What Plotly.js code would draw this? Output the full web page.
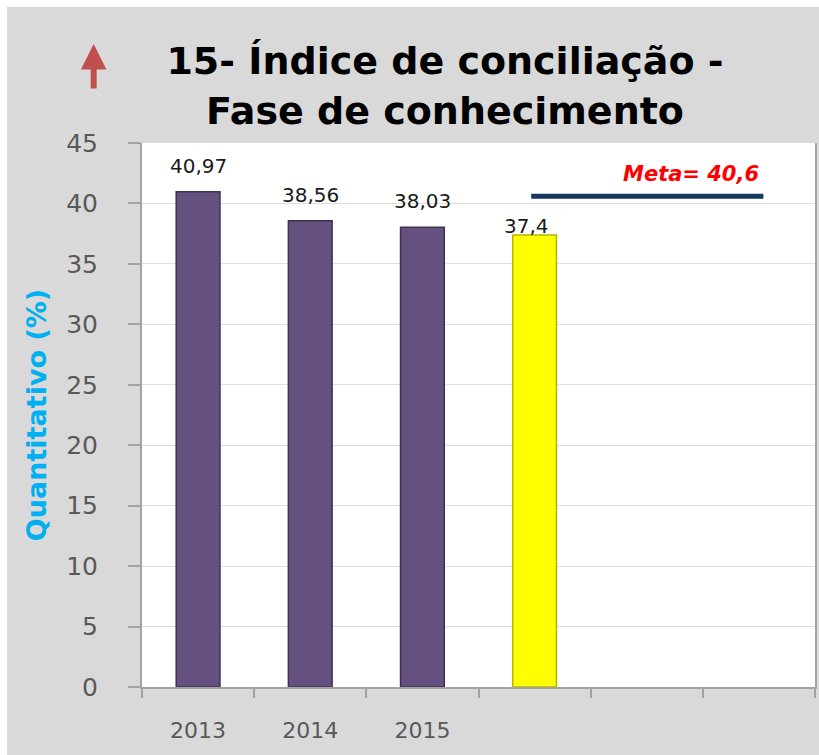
<!DOCTYPE html>
<html>
<head>
<meta charset="utf-8">
<script src="https://cdn.plot.ly/plotly-3.0.1.min.js"></script>
<style>
  html, body { margin: 0; padding: 0; background: #ffffff; width: 819px; height: 755px; overflow: hidden; }
  #chart { position: absolute; left: 7px; top: 7px; width: 812px; height: 748px; }
</style>
</head>
<body>
<div id="chart"></div>
<script>
// ---- data ----
const categories = ["2013", "2014", "2015"];          // labelled categories
const barPositions = [0, 1, 2, 3];                    // category slots holding bars
const barValues = [40.97, 38.56, 38.03, 37.4];
const barLabels = ["40,97", "38,56", "38,03", "37,4"];
const barColors = ["#65517f", "#65517f", "#65517f", "#ffff00"];
const barEdgeColors = ["#3e3152", "#3e3152", "#3e3152", "#b5b500"];
const slotBoundaries = [-0.5, 0.5, 1.5, 2.5, 3.5, 4.5, 5.5];
const metaValue = 40.6;
const metaLabel = "Meta= 40,6";
const metaSpan = [2.97, 5.04];
const yTicks = [0, 5, 10, 15, 20, 25, 30, 35, 40, 45];

const axisGray = "#a3a3a3";
const tickTextGray = "#595959";

const bars = {
  type: "bar",
  x: barPositions,
  y: barValues,
  marker: { color: barColors, line: { color: barEdgeColors, width: 1.5 } },
  hoverinfo: "skip",
  showlegend: false
};

const metaLine = {
  type: "scatter",
  mode: "lines",
  x: metaSpan,
  y: [metaValue, metaValue],
  line: { color: "#17365d", width: 5 },
  hoverinfo: "skip",
  showlegend: false
};

// tick-mark-only overlay axis for category boundaries
const boundaryHelper = {
  type: "scatter",
  mode: "markers",
  x: [slotBoundaries[0]],
  y: [0],
  xaxis: "x2",
  marker: { opacity: 0 },
  hoverinfo: "skip",
  showlegend: false
};

const annotations = barPositions.map((p, i) => ({
  x: p,
  y: barValues[i],
  xref: "x",
  yref: "y",
  text: barLabels[i],
  showarrow: false,
  yanchor: "bottom",
  xanchor: "center",
  xshift: i === 3 ? -8 : 0,
  yshift: i === 3 ? -5 : 12,
  font: { family: "DejaVu Sans", size: 20, color: "#1a1a1a" }
}));

annotations.push({
  x: metaSpan[1],
  y: metaValue,
  xref: "x",
  yref: "y",
  text: "<b><i>" + metaLabel + "</i></b>",
  showarrow: false,
  xanchor: "right",
  yanchor: "bottom",
  xshift: -2,
  yshift: 8,
  font: { family: "DejaVu Sans", size: 21, color: "#ff0000" }
});

// red up arrow (top-left)
annotations.push({
  x: -0.0718,
  y: 1.182,
  xref: "paper",
  yref: "paper",
  text: "",
  showarrow: true,
  arrowhead: 2,
  arrowsize: 0.85,
  arrowwidth: 6,
  arrowcolor: "#c0504d",
  ax: 0,
  ay: 46
});

const layout = {
  width: 812,
  height: 748,
  paper_bgcolor: "#d9d9d9",
  plot_bgcolor: "#ffffff",
  margin: { l: 135, r: 4, t: 136, b: 68 },
  bargap: 0.61,
  title: {
    text: "15- Índice de conciliação -<br>Fase de conhecimento",
    font: { family: "DejaVu Sans", size: 38, color: "#000000", weight: "bold" },
    xref: "container",
    x: 0.5394,
    xanchor: "center",
    yref: "container",
    y: 0.91,
    yanchor: "top"
  },
  xaxis: {
    range: [-0.5, 5.5],
    tickmode: "array",
    tickvals: [0, 1, 2],
    ticktext: categories,
    ticks: "",
    showgrid: false,
    zeroline: false,
    showline: true,
    linecolor: axisGray,
    linewidth: 2,
    ticklabelstandoff: 23,
    tickfont: { family: "DejaVu Sans", size: 22, color: tickTextGray },
    fixedrange: true
  },
  xaxis2: {
    overlaying: "x",
    anchor: "y",
    side: "bottom",
    range: [-0.5, 5.5],
    tickmode: "array",
    tickvals: slotBoundaries,
    ticks: "outside",
    ticklen: 10,
    tickwidth: 2,
    tickcolor: axisGray,
    showticklabels: false,
    showgrid: false,
    zeroline: false,
    showline: false
  },
  yaxis: {
    range: [0, 45],
    tickmode: "array",
    tickvals: yTicks,
    ticks: "outside",
    ticklen: 12,
    tickwidth: 2,
    tickcolor: axisGray,
    showline: true,
    linecolor: axisGray,
    linewidth: 2,
    mirror: true,
    showgrid: true,
    gridcolor: "#dedede",
    gridwidth: 1,
    zeroline: false,
    ticklabelstandoff: 25,
    tickfont: { family: "DejaVu Sans", size: 25, color: tickTextGray },
    title: {
      text: "Quantitativo (%)",
      font: { family: "DejaVu Sans", size: 27, color: "#00b0f0", weight: "bold" },
      standoff: 12
    },
    fixedrange: true
  },
  annotations: annotations,
  showlegend: false
};

Plotly.newPlot("chart", [bars, metaLine, boundaryHelper], layout, { displayModeBar: false, staticPlot: true });
</script>
</body>
</html>
